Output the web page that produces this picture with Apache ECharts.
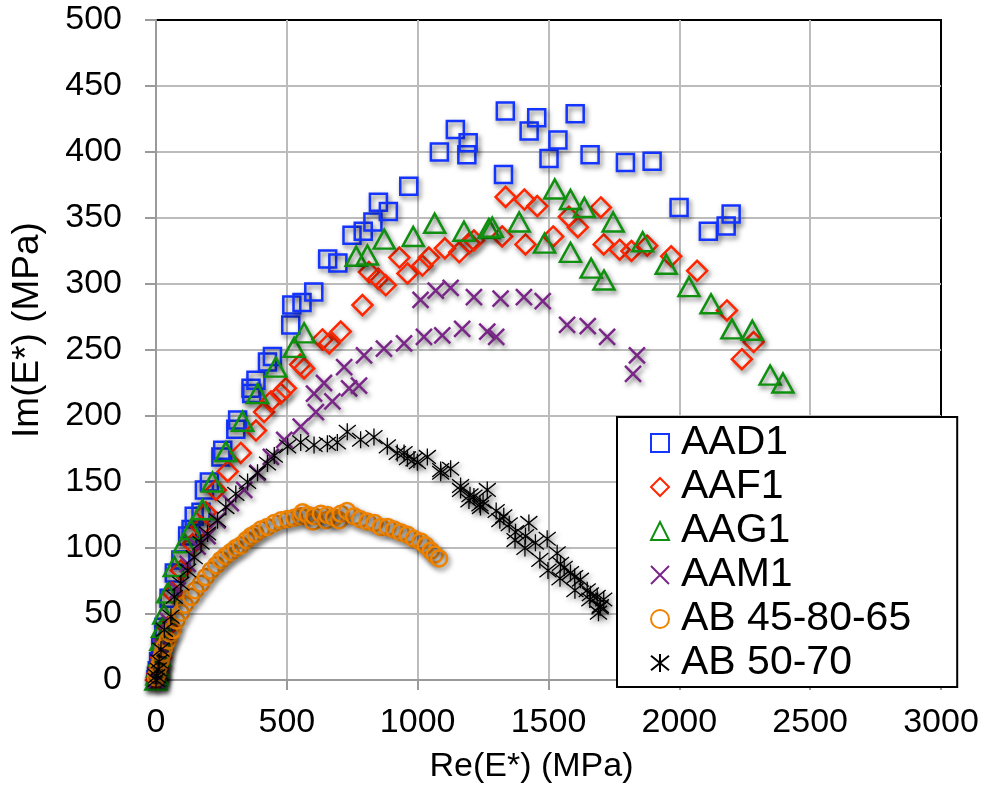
<!DOCTYPE html>
<html>
<head>
<meta charset="utf-8">
<script src="https://cdn.jsdelivr.net/npm/echarts@6/dist/echarts.min.js"></script>
<style>
html,body{margin:0;padding:0;background:#fff;}
#chart{width:987px;height:791px;}
</style>
</head>
<body>
<div id="chart"></div>
<script>
const seriesNames = ['AAD1', 'AAF1', 'AAG1', 'AAM1', 'AB 45-80-65', 'AB 50-70'];
const xTicks = [0, 500, 1000, 1500, 2000, 2500, 3000];
const yTicks = [0, 50, 100, 150, 200, 250, 300, 350, 400, 450, 500];

const AAD1 = [[0,0],[2,3],[5,7],[10,14],[18,25],[30,40],[50,62],[70,81],[95,91],[121,109],[134,114],[146,124],[172,127],[185,144],[204,150],[248,169],[255,174],[305,190],[312,197],[363,221],[366,217],[382,227],[426,241],[445,245],[515,269],[519,284],[558,286],[603,294],[656,319],[695,316],[749,337],[792,340],[829,347],[850,362],[888,355],[966,374],[1083,400],[1144,417],[1188,398],[1193,407],[1328,383],[1335,431],[1426,416],[1455,426],[1502,395],[1536,409],[1602,429],[1659,398],[1794,392],[1896,393],[1999,358],[2111,340],[2179,344],[2198,353]];

const AAF1 = [[0,0],[3,2],[6,5],[12,10],[20,17],[32,28],[45,40],[64,66],[95,83],[140,103],[172,116],[191,127],[229,144],[274,158],[324,172],[382,189],[413,203],[439,211],[477,217],[496,221],[551,239],[566,236],[636,258],[662,255],[706,264],[789,284],[814,309],[849,304],[878,299],[930,320],[961,308],[1018,314],[1043,320],[1104,327],[1159,324],[1198,331],[1215,333],[1323,336],[1336,366],[1408,364],[1412,330],[1457,359],[1518,336],[1578,351],[1612,343],[1700,358],[1711,330],[1772,326],[1817,325],[1877,329],[1969,321],[2068,310],[2182,280],[2239,243],[2284,256]];

const AAG1 = [[0,0],[4,4],[8,10],[14,18],[19,30],[25,40],[30,50],[45,66],[70,86],[108,104],[134,114],[178,129],[216,150],[267,173],[331,196],[388,217],[458,237],[528,252],[566,263],[765,321],[808,322],[872,334],[983,336],[1065,346],[1177,340],[1272,342],[1285,343],[1388,347],[1485,331],[1524,372],[1584,364],[1584,324],[1637,358],[1663,312],[1712,303],[1747,347],[1860,332],[1950,315],[2037,298],[2121,285],[2201,266],[2279,265],[2347,231],[2396,225]];

const AAM1 = [[0,0],[3,3],[8,8],[19,25],[45,45],[83,68],[121,88],[159,101],[197,109],[235,121],[286,134],[337,144],[388,157],[439,169],[490,182],[553,192],[604,217],[611,203],[642,225],[674,211],[719,237],[738,221],[776,223],[795,246],[871,251],[948,255],[1011,288],[1024,260],[1069,295],[1094,261],[1126,297],[1170,266],[1215,290],[1266,264],[1300,260],[1317,289],[1406,290],[1478,287],[1571,269],[1650,268],[1724,260],[1823,232],[1838,246]];

const AB4580 = [[0,2],[5,5],[10,10],[18,15],[25,20],[32,25],[45,30],[55,35],[64,38],[78,45],[95,51],[110,57],[134,63],[150,68],[172,73],[190,78],[210,83],[230,87],[248,91],[265,94],[286,97],[305,100],[324,102],[345,106],[363,109],[380,111],[401,114],[425,116],[452,119],[478,121],[503,122],[528,123],[553,124],[560,127],[580,125],[600,120],[604,124],[630,126],[650,121],[655,125],[680,123],[700,121],[706,126],[730,128],[757,124],[780,122],[808,120],[835,119],[859,116],[885,116],[910,114],[935,112],[961,110],[985,107],[1011,105],[1030,102],[1050,98],[1065,95],[1082,92]];

const AB5070 = [[0,0],[3,3],[8,8],[12,14],[19,23],[32,38],[57,48],[70,63],[95,73],[121,83],[146,93],[172,104],[197,111],[235,121],[267,131],[305,141],[350,150],[388,157],[426,164],[452,170],[503,177],[553,180],[604,178],[655,179],[693,180],[731,188],[782,182],[833,184],[884,177],[922,172],[948,172],[961,168],[986,167],[999,165],[1037,169],[1088,159],[1088,157],[1126,160],[1164,147],[1164,144],[1196,136],[1200,140],[1215,139],[1238,133],[1240,131],[1250,135],[1266,144],[1300,128],[1314,121],[1329,124],[1350,118],[1372,106],[1374,112],[1410,100],[1412,109],[1425,119],[1450,104],[1467,91],[1495,107],[1498,83],[1533,96],[1544,77],[1546,88],[1560,85],[1584,81],[1600,78],[1601,68],[1622,76],[1648,68],[1658,61],[1660,65],[1686,63],[1691,51],[1697,55],[1698,56],[1711,61]];

const colors = ['#1434ff', '#ff2600', '#0f900f', '#7a2688', '#f08400', '#000000'];
const symbols = [
  'rect',
  'diamond',
  'triangle',
  'path://M0,0L10,10M10,0L0,10',
  'circle',
  'path://M0,1L10,9M10,1L0,9M5,0L5,10'
];
const sizes = [[17,17],[20,20],[21,19],[16,16],[16,16],[17,17]];
const widths = [2.5, 2.5, 2.5, 2.5, 2.5, 1.3];
const datasets = [AAD1, AAF1, AAG1, AAM1, AB4580, AB5070];

const chart = echarts.init(document.getElementById('chart'), null, {renderer: 'canvas'});

const series = seriesNames.map((name, i) => ({
  name: name,
  type: 'scatter',
  data: datasets[i],
  symbol: symbols[i],
  symbolSize: sizes[i],
  itemStyle: {
    color: 'rgba(0,0,0,0)',
    borderColor: colors[i],
    borderWidth: widths[i],
    opacity: 1,
    shadowBlur: 5,
    shadowOffsetX: 2,
    shadowOffsetY: 3,
    shadowColor: 'rgba(0,0,0,0.55)'
  },
  emphasis: {disabled: true},
  animation: false
}));

const font = 'Liberation Sans, Arial, Helvetica, sans-serif';
const plain = v => String(v);

chart.setOption({
  backgroundColor: '#fff',
  animation: false,
  grid: {
    left: 156, top: 20, width: 785, height: 660,
    show: true, borderColor: '#000', borderWidth: 2, backgroundColor: 'transparent'
  },
  xAxis: {
    type: 'value', min: xTicks[0], max: xTicks[xTicks.length - 1], interval: 500,
    name: 'Re(E*) (MPa)', nameLocation: 'middle', nameGap: 70,
    nameTextStyle: {fontFamily: font, fontSize: 34, color: '#000', padding: [0, 34, 0, 0]},
    axisLine: {show: true, onZero: false, lineStyle: {color: '#9a9a9a', width: 2}},
    axisTick: {show: true, inside: false, length: 10, lineStyle: {color: '#9a9a9a', width: 2}},
    axisLabel: {fontFamily: font, fontSize: 34, color: '#000', margin: 26, formatter: plain},
    splitLine: {show: true, showMaxLine: false, lineStyle: {color: '#bcbcbc', width: 2}}
  },
  yAxis: {
    type: 'value', min: yTicks[0], max: yTicks[yTicks.length - 1], interval: 50,
    name: 'Im(E*) (MPa)', nameLocation: 'middle', nameGap: 110, nameRotate: 90,
    nameTextStyle: {fontFamily: font, fontSize: 37, color: '#000', padding: [0, 0, 0, 40]},
    axisLine: {show: true, onZero: false, lineStyle: {color: '#9a9a9a', width: 2}},
    axisTick: {show: true, inside: false, length: 11, lineStyle: {color: '#9a9a9a', width: 2}},
    axisLabel: {fontFamily: font, fontSize: 34, color: '#000', margin: 34, formatter: plain},
    splitLine: {show: true, showMaxLine: false, lineStyle: {color: '#bcbcbc', width: 2}}
  },
  legend: {
    orient: 'vertical',
    left: 617, top: 417,
    padding: [4, 46, 2, 33],
    itemGap: 0,
    itemWidth: 18, itemHeight: 18,
    backgroundColor: '#fff',
    borderColor: '#000', borderWidth: 2,
    borderRadius: 0,
    itemStyle: {borderWidth: 2, opacity: 1, shadowBlur: 0, shadowOffsetX: 0, shadowOffsetY: 0, shadowColor: 'rgba(0,0,0,0)'},
    textStyle: {fontFamily: font, fontSize: 41, color: '#000', lineHeight: 44, padding: [0, 0, 0, 7]},
    data: seriesNames,
    selectedMode: false
  },
  series: series
});
</script>
</body>
</html>
